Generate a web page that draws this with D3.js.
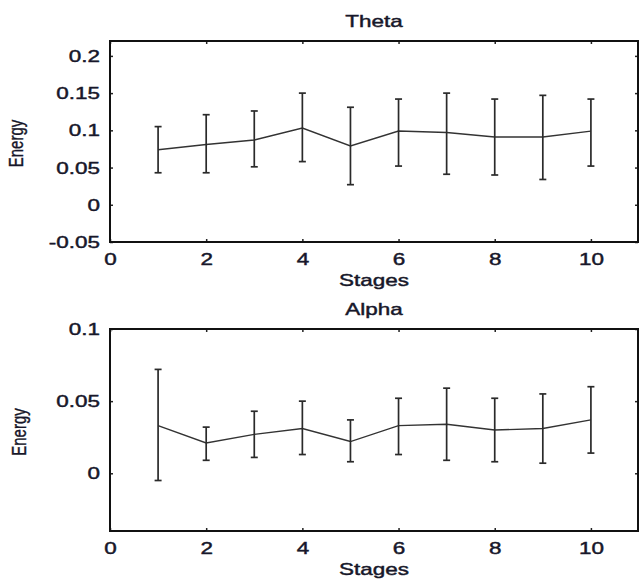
<!DOCTYPE html>
<html lang="en">
  <head>
    <meta charset="utf-8">
    <title>Theta / Alpha energy</title>
    <script src="https://d3js.org/d3.v7.min.js"></script>
    <style>
      body { margin: 0; background: #fff; }
      text { font-family: Arial, "Liberation Sans", sans-serif; fill: #17172a; stroke: #17172a; stroke-width: 0.45px; }
    </style>
  </head>
  <body>
    <div id="chart"></div>
    <script>
      // stages on the x axis
      var stages = [1, 2, 3, 4, 5, 6, 7, 8, 9, 10];
      var xTicks = [0, 2, 4, 6, 8, 10];

      // Theta band: mean and error bar ends
      var thetaMean = [0.074, 0.081, 0.087, 0.103, 0.079, 0.099, 0.097, 0.091, 0.091, 0.099];
      var thetaLow  = [0.043, 0.043, 0.051, 0.058, 0.027, 0.052, 0.041, 0.040, 0.034, 0.052];
      var thetaHigh = [0.105, 0.121, 0.126, 0.150, 0.131, 0.142, 0.150, 0.142, 0.147, 0.142];
      var thetaTicks = [-0.05, 0, 0.05, 0.1, 0.15, 0.2];

      // Alpha band
      var alphaMean = [0.033, 0.021, 0.027, 0.031, 0.022, 0.033, 0.034, 0.030, 0.031, 0.037];
      var alphaLow  = [-0.005, 0.009, 0.011, 0.013, 0.008, 0.013, 0.009, 0.008, 0.007, 0.014];
      var alphaHigh = [0.072, 0.032, 0.043, 0.050, 0.037, 0.052, 0.059, 0.052, 0.055, 0.060];
      var alphaTicks = [0, 0.05, 0.1];

      var W = 639, H = 580;
      var svg = d3.select("#chart").append("svg")
          .attr("width", W)
          .attr("height", H);

      // the picture is stretched sideways, so stretch the text too
      function stretch(sel, k) {
        sel.each(function() {
          var len = this.getComputedTextLength();
          d3.select(this).attr("textLength", len * k).attr("lengthAdjust", "spacingAndGlyphs");
        });
      }

      function panel(opt) {
        var x = d3.scaleLinear().domain([0, 11]).range([110, 639]);
        var y = d3.scaleLinear().domain(opt.yDomain).range([opt.bottom, opt.top]);
        var g = svg.append("g");

        // inside ticks on all four sides
        var ax = [
          d3.axisBottom(x).tickValues(xTicks).tickSize(-3).tickPadding(11).tickFormat(d3.format("d")),
          d3.axisTop(x).tickValues(xTicks).tickSize(-3).tickFormat(""),
          d3.axisLeft(y).tickValues(opt.ticks).tickSize(-3).tickPadding(10).tickFormat(function(d) { return String(d); }),
          d3.axisRight(y).tickValues(opt.ticks).tickSize(-3).tickFormat("")
        ];
        var pos = [
          "translate(0," + opt.bottom + ")",
          "translate(0," + opt.top + ")",
          "translate(110,0)",
          "translate(638,0)"
        ];
        ax.forEach(function(a, i) {
          var ag = g.append("g").attr("transform", pos[i]).call(a);
          ag.select(".domain").remove();
          ag.selectAll("line").attr("stroke", "#222").attr("stroke-width", 1.5);
          ag.selectAll("text").attr("font-size", 17).attr("fill", null)
            .attr("font-family", null);
        });

        g.append("rect")
          .attr("x", 110).attr("y", opt.top)
          .attr("width", 528).attr("height", opt.bottom - opt.top)
          .attr("fill", "none").attr("stroke", "#111").attr("stroke-width", 2);

        // mean line
        var line = d3.line()
          .x(function(d, i) { return x(stages[i]); })
          .y(function(d) { return y(d); });
        g.append("path")
          .datum(opt.mean)
          .attr("d", line)
          .attr("fill", "none")
          .attr("stroke", "#333")
          .attr("stroke-width", 1.4);

        // error bars
        var eb = g.selectAll(".eb").data(stages).enter().append("g").attr("class", "eb");
        eb.append("line")
          .attr("x1", function(d) { return x(d); }).attr("x2", function(d) { return x(d); })
          .attr("y1", function(d, i) { return y(opt.low[i]); })
          .attr("y2", function(d, i) { return y(opt.high[i]); });
        eb.append("line")
          .attr("x1", function(d) { return x(d) - 3.5; }).attr("x2", function(d) { return x(d) + 3.5; })
          .attr("y1", function(d, i) { return y(opt.low[i]); })
          .attr("y2", function(d, i) { return y(opt.low[i]); });
        eb.append("line")
          .attr("x1", function(d) { return x(d) - 3.5; }).attr("x2", function(d) { return x(d) + 3.5; })
          .attr("y1", function(d, i) { return y(opt.high[i]); })
          .attr("y2", function(d, i) { return y(opt.high[i]); });
        eb.selectAll("line").attr("stroke", "#2a2a2a").attr("stroke-width", 1.7);

        // titles and labels
        g.append("text").attr("class", "lab")
          .attr("x", 374).attr("y", opt.top - 14)
          .attr("text-anchor", "middle").attr("font-size", 17)
          .text(opt.title);
        g.append("text").attr("class", "lab")
          .attr("x", 374).attr("y", opt.bottom + 44)
          .attr("text-anchor", "middle").attr("font-size", 17)
          .text("Stages");
        g.append("text")
          .attr("transform", "translate(" + opt.ex + "," + ((opt.top + opt.bottom) / 2 + 2) + ") scale(1.3,1) rotate(-90)")
          .attr("text-anchor", "middle").attr("font-size", 15)
          .style("stroke-width", "0.3px")
          .text("Energy");

        stretch(g.selectAll(".tick text"), 1.32);
        stretch(g.selectAll(".lab"), 1.32);
      }

      panel({ title: "Theta", top: 41, bottom: 242, yDomain: [-0.05, 0.22], ticks: thetaTicks,
              mean: thetaMean, low: thetaLow, high: thetaHigh, ex: 23 });
      panel({ title: "Alpha", top: 329, bottom: 531, yDomain: [-0.04, 0.1], ticks: alphaTicks,
              mean: alphaMean, low: alphaLow, high: alphaHigh, ex: 26 });
    </script>
  </body>
</html>
